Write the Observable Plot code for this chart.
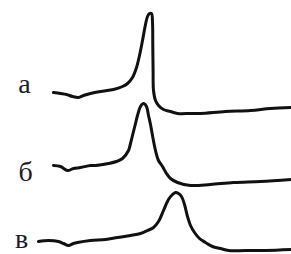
<!DOCTYPE html>
<html>
<head>
<meta charset="utf-8">
<script src="https://cdn.jsdelivr.net/npm/d3@7"></script>
<script src="https://cdn.jsdelivr.net/npm/@observablehq/plot@0.6"></script>
<style>
html,body{margin:0;padding:0;background:#fff;}
</style>
</head>
<body>
<div id="chart"></div>
<script>
// Series labels
const labels = ["а", "б", "в"];
const labelX = [24, 25, 21];
const labelY = [92, 180, 247];

// Curve а (time, signal reading)
const aX = [53, 60, 66, 72, 78, 83, 90, 100, 113, 122, 127, 132, 136, 139, 142, 145, 147, 149, 151, 152, 152.3, 152.6, 153, 155, 158, 163, 170, 177, 190, 200, 225, 250, 270, 291];
const aY = [92, 93, 94, 96, 97, 95, 93, 91, 89, 86, 83, 77, 67, 55, 40, 24, 16, 13, 13, 22, 45, 70, 90, 100, 105, 109, 111, 113, 113, 113, 111, 110, 108, 107];

// Curve б
const bX = [53, 60, 67, 73, 80, 90, 95, 108, 116, 122, 128, 130, 132, 135, 137, 140, 143, 146, 148, 150, 152, 155, 158, 162, 166, 170, 177, 190, 210, 233, 260, 291];
const bY = [165, 166, 170, 168, 167, 165, 165, 163, 161, 158, 150, 143, 135, 123, 115, 106, 103, 106, 115, 124, 135, 150, 160, 166, 173, 178, 182, 185, 184, 182, 181, 179];

// Curve в
const cX = [38, 48, 58, 63, 68, 73, 77, 90, 105, 117, 130, 140, 147, 153, 158, 163, 168, 172, 175, 178, 181, 184, 187, 190, 194, 199, 205, 212, 220, 228, 245, 265, 291];
const cY = [241, 240, 241, 243, 245, 243, 242, 240, 239, 237, 235, 233, 230, 227, 221, 210, 199, 194, 192, 193, 196, 204, 216, 225, 232, 238, 242, 246, 248, 250, 250, 250, 249];

const toRows = (xs, ys) => xs.map((x, i) => ({x, y: ys[i]}));
const curves = [toRows(aX, aY), toRows(bX, bY), toRows(cX, cY)];
const labelRows = labels.map((t, i) => ({t, x: labelX[i], y: labelY[i]}));

const plot = Plot.plot({
  width: 291,
  height: 254,
  margin: 0,
  style: {background: "#fff", overflow: "visible"},
  x: {domain: [0, 291], axis: null},
  y: {domain: [0, 254], reverse: true, axis: null},
  marks: [
    ...curves.map(rows => Plot.line(rows, {
      x: "x", y: "y", curve: "catmull-rom",
      stroke: "#111", strokeWidth: 3, strokeLinecap: "round", strokeLinejoin: "round"
    })),
    Plot.text(labelRows, {
      x: "x", y: "y", text: "t", lineAnchor: "bottom", textAnchor: "middle",
      fontSize: 28, fontFamily: "Liberation Serif", fill: "#1c1c28"
    })
  ]
});
document.getElementById("chart").appendChild(plot);
</script>
</body>
</html>
